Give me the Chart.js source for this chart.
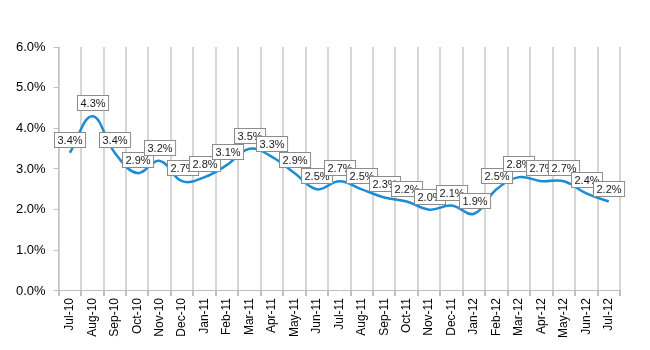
<!DOCTYPE html>
<html>
<head>
<meta charset="utf-8">
<script src="https://cdn.jsdelivr.net/npm/chart.js@4/dist/chart.umd.min.js"></script>
<style>
  html, body { margin: 0; padding: 0; background: #fff; }
  #wrap { width: 650px; height: 350px; }
</style>
</head>
<body>
<div id="wrap"><canvas id="chart"></canvas></div>
<script>
const months = ["Jul-10", "Aug-10", "Sep-10", "Oct-10", "Nov-10", "Dec-10", "Jan-11", "Feb-11",
  "Mar-11", "Apr-11", "May-11", "Jun-11", "Jul-11", "Aug-11", "Sep-11", "Oct-11", "Nov-11",
  "Dec-11", "Jan-12", "Feb-12", "Mar-12", "Apr-12", "May-12", "Jun-12", "Jul-12"];
const rates = [3.4, 4.3, 3.4, 2.9, 3.2, 2.7, 2.8, 3.1, 3.5, 3.3, 2.9, 2.5, 2.7, 2.5, 2.3, 2.2,
  2.0, 2.1, 1.9, 2.5, 2.8, 2.7, 2.7, 2.4, 2.2];
const yMin = 0;
const yMax = 6;
const yStep = 1;

const FONT = "'Liberation Sans', Arial, sans-serif";

// boxed value labels sitting just above each point
const boxLabels = {
  id: "boxLabels",
  afterDatasetsDraw(chart) {
    const { ctx } = chart;
    const meta = chart.getDatasetMeta(0);
    ctx.save();
    ctx.font = "11px " + FONT;
    ctx.textAlign = "center";
    ctx.textBaseline = "middle";
    meta.data.forEach((pt, i) => {
      const text = rates[i].toFixed(1) + "%";
      const w = ctx.measureText(text).width + 6;
      const h = 15;
      const x = Math.round(pt.x - w / 2) + 0.5;
      const y = Math.round(pt.y - 6 - h) + 0.5;
      ctx.fillStyle = "#fff";
      ctx.fillRect(x, y, w, h);
      ctx.strokeStyle = "#8c8c8c";
      ctx.lineWidth = 1;
      ctx.strokeRect(x, y, w, h);
      ctx.fillStyle = "#1a1a1a";
      ctx.fillText(text, x + w / 2, y + h / 2 + 0.5);
    });
    ctx.restore();
  },
};

new Chart(document.getElementById("chart"), {
  type: "line",
  data: {
    labels: months,
    datasets: [{
      data: rates,
      borderColor: "#1b8bd5",
      borderWidth: 2.5,
      pointRadius: 0,
      tension: 0.4,
      fill: false,
    }],
  },
  options: {
    responsive: true,
    maintainAspectRatio: false,
    animation: false,
    layout: { padding: { left: 8, top: 47, right: 30, bottom: 10 } },
    plugins: { legend: { display: false }, tooltip: { enabled: false } },
    scales: {
      x: {
        offset: true,
        grid: { color: "#d6d6d6", lineWidth: 2, offset: true, tickLength: 5, tickColor: "#bfbfbf" },
        border: { color: "#bfbfbf", width: 1 },
        ticks: {
          autoSkip: false,
          minRotation: 90,
          maxRotation: 90,
          color: "#000",
          font: { family: FONT, size: 12 },
          padding: 2,
        },
      },
      y: {
        min: yMin,
        max: yMax,
        grid: { drawOnChartArea: false, tickLength: 5, color: "#bfbfbf" },
        border: { color: "#bfbfbf", width: 1 },
        ticks: {
          stepSize: yStep,
          color: "#000",
          font: { family: FONT, size: 13 },
          padding: 8,
          callback: (v) => v.toFixed(1) + "%",
        },
      },
    },
  },
  plugins: [boxLabels],
});
</script>
</body>
</html>
